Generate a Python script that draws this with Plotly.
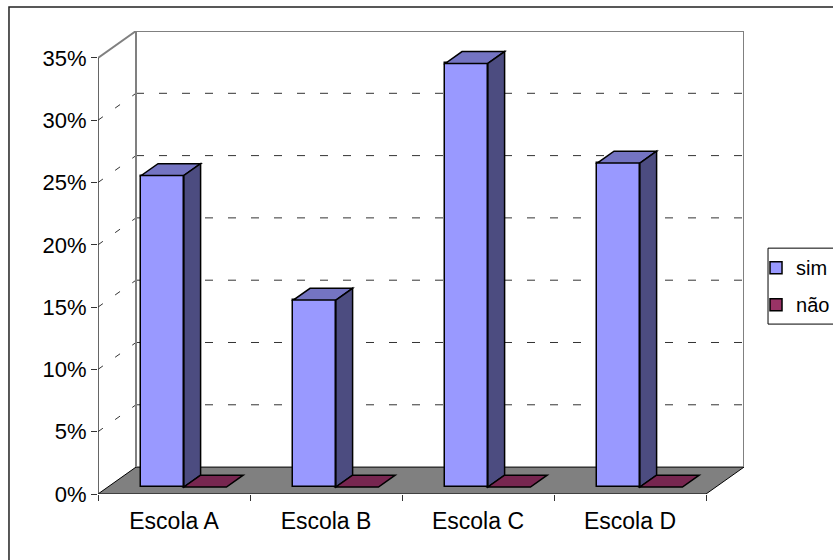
import plotly.graph_objects as go

# ---- data -------------------------------------------------------------
categories = ["Escola A", "Escola B", "Escola C", "Escola D"]
sim_values = [25, 15, 34, 26]
nao_values = [0, 0, 0, 0]
series_names = ["sim", "não"]
y_tick_values = [0, 5, 10, 15, 20, 25, 30, 35]
y_tick_labels = [f"{v}%" for v in y_tick_values]

# ---- 3-D geometry (data units) -----------------------------------------
Y_TOP = 35            # top of the value axis
DEPTH_X = 0.25        # floor depth projected on x (category units)
DEPTH_Y = 2.16        # floor depth projected on y (percent units)
X_MAX = len(categories) + DEPTH_X
Y_MAX = Y_TOP + DEPTH_Y
BAR_W = 0.28
F0, F1 = 0.26, 0.70   # front / back depth of the columns (fraction of floor depth)

FRONT = {"sim": "#9999FF", "não": "#993366"}
TOP = {"sim": "#7474C2", "não": "#772650"}
SIDE = {"sim": "#4C4C80", "não": "#4D1A33"}
WALL = "#808080"

n = len(categories)
dx0, dy0 = F0 * DEPTH_X, F0 * DEPTH_Y
ddx, ddy = (F1 - F0) * DEPTH_X, (F1 - F0) * DEPTH_Y


def poly(points):
    return "M " + " L ".join(f"{x},{y}" for x, y in points) + " Z"


shapes = []

# floor
shapes.append(dict(type="path", xref="x", yref="y", layer="below",
                   path=poly([(0, 0), (n, 0), (n + DEPTH_X, DEPTH_Y), (DEPTH_X, DEPTH_Y)]),
                   fillcolor=WALL, line=dict(color="black", width=1)))

# back-wall and side-wall gridlines
for v in y_tick_values[1:-1]:
    shapes.append(dict(type="line", xref="x", yref="y", layer="below",
                       x0=DEPTH_X, x1=X_MAX, y0=v + DEPTH_Y, y1=v + DEPTH_Y,
                       line=dict(color="#333333", width=1, dash="8px,15px")))
    shapes.append(dict(type="line", xref="x", yref="y", layer="below",
                       x0=0, x1=DEPTH_X, y0=v, y1=v + DEPTH_Y,
                       line=dict(color="#333333", width=1, dash="6px,15px")))

# wall outlines
for (xa, ya, xb, yb) in [
    (DEPTH_X, DEPTH_Y, DEPTH_X, Y_MAX),
    (DEPTH_X, Y_MAX, X_MAX, Y_MAX),
    (X_MAX, DEPTH_Y, X_MAX, Y_MAX),
    (0, Y_TOP, DEPTH_X, Y_MAX),
]:
    shapes.append(dict(type="line", xref="x", yref="y", layer="below",
                       x0=xa, y0=ya, x1=xb, y1=yb, line=dict(color=WALL, width=2)))

# value axis line
shapes.append(dict(type="line", xref="x", yref="y", layer="above",
                   x0=0, y0=0, x1=0, y1=Y_TOP, line=dict(color="#333333", width=1.5)))

fig = go.Figure()

for name, values in zip(series_names, [sim_values, nao_values]):
    offset = -BAR_W if name == "sim" else 0.0
    xs = [i + 0.5 + dx0 for i in range(n)]
    fig.add_bar(
        x=xs, y=values, base=[dy0] * n, width=BAR_W, offset=offset, name=name,
        marker=dict(color=FRONT[name], line=dict(color="black", width=1.5)),
        legendgroup=name,
    )
    for x, v in zip(xs, values):
        x0, x1 = x + offset, x + offset + BAR_W
        top = v + dy0
        shapes.append(dict(type="path", xref="x", yref="y", layer="above",
                           path=poly([(x0, top), (x1, top), (x1 + ddx, top + ddy), (x0 + ddx, top + ddy)]),
                           fillcolor=TOP[name], line=dict(color="black", width=1.5)))
        if v > 0:
            shapes.append(dict(type="path", xref="x", yref="y", layer="above",
                               path=poly([(x1, dy0), (x1, top), (x1 + ddx, top + ddy), (x1 + ddx, dy0 + ddy)]),
                               fillcolor=SIDE[name], line=dict(color="black", width=1.5)))

# legend frame
shapes.append(dict(type="rect", xref="paper", yref="paper", layer="above",
                   x0=1.0372, y0=0.367, x1=1.2, y1=0.531,
                   line=dict(color="black", width=1), fillcolor="rgba(0,0,0,0)"))

# chart-area border
shapes.append(dict(type="rect", xref="paper", yref="paper", layer="above",
                   x0=-0.1378, y0=-0.3, x1=1.3, y1=1.0518,
                   line=dict(color="#222222", width=1.5), fillcolor="rgba(0,0,0,0)"))

FONT = "Liberation Sans, Arial, sans-serif"

fig.update_layout(
    width=833, height=560,
    margin=dict(l=98, r=89, t=31, b=66, autoexpand=False),
    paper_bgcolor="white", plot_bgcolor="white",
    font=dict(family=FONT, size=22, color="black"),
    bargap=0, showlegend=True,
    shapes=shapes,
    xaxis=dict(range=[0, X_MAX], tickvals=[i + 0.5 for i in range(n)], ticktext=categories,
               ticks="", showgrid=False, zeroline=False, showline=False,
               ticklabelstandoff=11, tickfont=dict(size=23),
               minor=dict(tickvals=list(range(n + 1)), ticks="outside", ticklen=6,
                          tickcolor="#333333", showgrid=False)),
    yaxis=dict(range=[0, Y_MAX], tickvals=y_tick_values, ticktext=y_tick_labels,
               ticks="outside", ticklen=6, tickcolor="#333333", tickfont=dict(size=22),
               showgrid=False, zeroline=False, showline=False),
    legend=dict(x=1.0186, y=0.531, xanchor="left", yanchor="top",
                borderwidth=0, bgcolor="rgba(0,0,0,0)",
                itemwidth=30, font=dict(size=20),
                traceorder="grouped", tracegroupgap=8),
)

fig.write_html("out.html")
